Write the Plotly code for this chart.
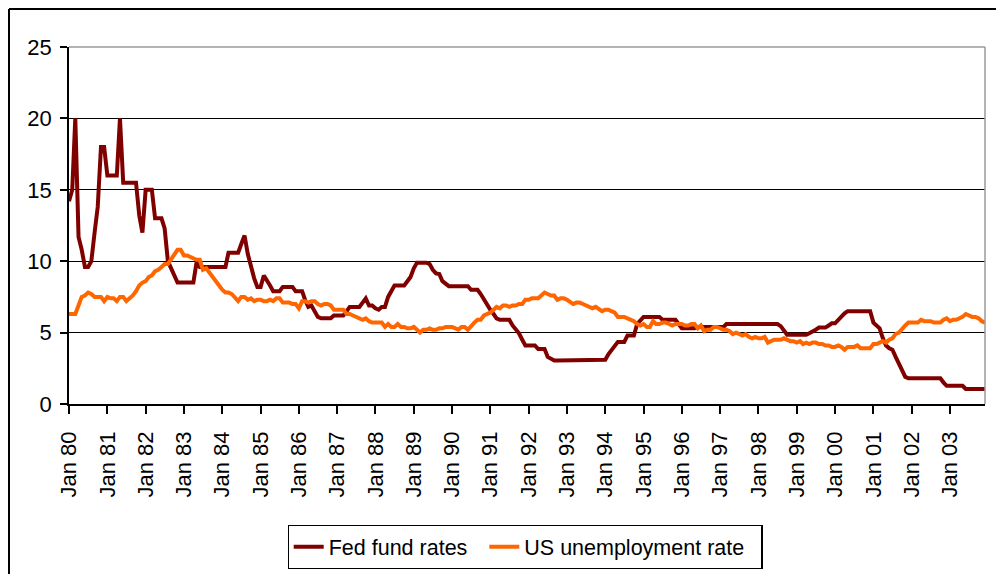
import pandas as pd
import plotly.graph_objects as go

# Monthly values, Jan 1980 .. Dec 2003
fed_funds = [
    14.2, 15.0, 20.0, 11.7, 10.8, 9.6, 9.6, 10.0, 12.0, 13.8, 18.0, 18.0,      # 1980
    16.0, 16.0, 16.0, 16.0, 20.0, 15.5, 15.5, 15.5, 15.5, 15.5, 13.2, 12.0,    # 1981
    15.0, 15.0, 15.0, 13.0, 13.0, 13.0, 12.3, 10.0, 9.5, 9.0, 8.5, 8.5,        # 1982
    8.5, 8.5, 8.5, 8.5, 9.9, 9.6, 9.6, 9.6, 9.6, 9.6, 9.6, 9.6,                # 1983
    9.6, 9.6, 10.6, 10.6, 10.6, 10.6, 11.2, 11.8, 10.5, 9.6, 8.8, 8.2,         # 1984
    8.2, 9.0, 8.6, 8.3, 7.9, 7.9, 7.9, 8.2, 8.2, 8.2, 8.2, 7.9,                # 1985
    7.9, 7.9, 7.3, 6.8, 6.9, 6.5, 6.1, 6.0, 6.0, 6.0, 6.0, 6.2,                # 1986
    6.2, 6.2, 6.2, 6.5, 6.8, 6.8, 6.8, 6.8, 7.1, 7.4, 6.9, 6.9,                # 1987
    6.7, 6.6, 6.8, 6.8, 7.5, 7.9, 8.3, 8.3, 8.3, 8.3, 8.6, 8.9,                # 1988
    9.5, 9.9, 9.9, 9.9, 9.9, 9.8, 9.4, 9.15, 9.1, 8.6, 8.4, 8.25,              # 1989
    8.25, 8.25, 8.25, 8.25, 8.25, 8.25, 8.0, 8.0, 8.0, 7.7, 7.3, 6.9,          # 1990
    6.6, 6.3, 6.0, 5.9, 5.9, 5.9, 5.9, 5.5, 5.2, 4.95, 4.5, 4.1,               # 1991
    4.1, 4.1, 4.1, 3.85, 3.85, 3.85, 3.3, 3.2, 3.05, 3.05, 3.05, 3.05,         # 1992
    3.05, 3.05, 3.05, 3.05, 3.05, 3.05, 3.05, 3.05, 3.05, 3.05, 3.05, 3.05,    # 1993
    3.1, 3.5, 3.8, 4.1, 4.35, 4.35, 4.35, 4.8, 4.8, 4.8, 5.6, 5.9,             # 1994
    6.1, 6.1, 6.1, 6.1, 6.1, 6.1, 5.9, 5.9, 5.9, 5.9, 5.9, 5.6,                # 1995
    5.3, 5.3, 5.3, 5.3, 5.3, 5.4, 5.4, 5.4, 5.4, 5.4, 5.4, 5.4,                # 1996
    5.4, 5.4, 5.6, 5.6, 5.6, 5.6, 5.6, 5.6, 5.6, 5.6, 5.6, 5.6,                # 1997
    5.6, 5.6, 5.6, 5.6, 5.6, 5.6, 5.6, 5.45, 5.15, 4.85, 4.85, 4.85,           # 1998
    4.85, 4.85, 4.85, 4.85, 4.95, 5.05, 5.2, 5.35, 5.35, 5.35, 5.5, 5.65,      # 1999
    5.65, 5.9, 6.1, 6.35, 6.5, 6.5, 6.5, 6.5, 6.5, 6.5, 6.5, 6.5,              # 2000
    5.7, 5.5, 5.3, 4.6, 4.1, 3.9, 3.8, 3.3, 2.8, 2.3, 1.9, 1.8,                # 2001
    1.8, 1.8, 1.8, 1.8, 1.8, 1.8, 1.8, 1.8, 1.8, 1.8, 1.5, 1.27,               # 2002
    1.27, 1.27, 1.27, 1.27, 1.27, 1.05, 1.05, 1.05, 1.05, 1.05, 1.05, 1.05,    # 2003
]

unemployment = [
    6.3, 6.3, 6.3, 6.9, 7.5, 7.6, 7.8, 7.7, 7.5, 7.5, 7.5, 7.2,      # 1980
    7.5, 7.4, 7.4, 7.2, 7.5, 7.5, 7.2, 7.4, 7.6, 7.9, 8.3, 8.5,      # 1981
    8.6, 8.9, 9.0, 9.3, 9.4, 9.6, 9.8, 9.8, 10.1, 10.4, 10.8, 10.8,  # 1982
    10.4, 10.4, 10.3, 10.2, 10.1, 10.1, 9.4, 9.5, 9.2, 8.8, 8.5, 8.3,  # 1983
    8.0, 7.8, 7.8, 7.7, 7.4, 7.2, 7.5, 7.5, 7.3, 7.4, 7.2, 7.3,      # 1984
    7.3, 7.2, 7.2, 7.3, 7.2, 7.4, 7.4, 7.1, 7.1, 7.1, 7.0, 7.0,      # 1985
    6.7, 7.2, 7.2, 7.1, 7.2, 7.2, 7.0, 6.9, 7.0, 7.0, 6.9, 6.6,      # 1986
    6.6, 6.6, 6.6, 6.3, 6.3, 6.2, 6.1, 6.0, 5.9, 6.0, 5.8, 5.7,      # 1987
    5.7, 5.7, 5.7, 5.4, 5.6, 5.4, 5.4, 5.6, 5.4, 5.4, 5.3, 5.3,      # 1988
    5.4, 5.2, 5.0, 5.2, 5.2, 5.3, 5.2, 5.2, 5.3, 5.3, 5.4, 5.4,      # 1989
    5.4, 5.3, 5.2, 5.4, 5.4, 5.2, 5.5, 5.7, 5.9, 5.9, 6.2, 6.3,      # 1990
    6.4, 6.6, 6.8, 6.7, 6.9, 6.9, 6.8, 6.9, 6.9, 7.0, 7.0, 7.3,      # 1991
    7.3, 7.4, 7.4, 7.4, 7.6, 7.8, 7.7, 7.6, 7.6, 7.3, 7.4, 7.4,      # 1992
    7.3, 7.1, 7.0, 7.1, 7.1, 7.0, 6.9, 6.8, 6.7, 6.8, 6.6, 6.5,      # 1993
    6.6, 6.6, 6.5, 6.4, 6.1, 6.1, 6.1, 6.0, 5.9, 5.8, 5.6, 5.5,      # 1994
    5.6, 5.4, 5.4, 5.8, 5.6, 5.6, 5.7, 5.7, 5.6, 5.5, 5.6, 5.6,      # 1995
    5.6, 5.5, 5.5, 5.6, 5.6, 5.3, 5.5, 5.1, 5.2, 5.2, 5.4, 5.4,      # 1996
    5.3, 5.2, 5.2, 5.1, 4.9, 5.0, 4.9, 4.8, 4.9, 4.7, 4.6, 4.7,      # 1997
    4.6, 4.6, 4.7, 4.3, 4.4, 4.5, 4.5, 4.5, 4.6, 4.5, 4.4, 4.4,      # 1998
    4.3, 4.4, 4.2, 4.3, 4.2, 4.3, 4.3, 4.2, 4.2, 4.1, 4.1, 4.0,      # 1999
    4.0, 4.1, 4.0, 3.8, 4.0, 4.0, 4.0, 4.1, 3.9, 3.9, 3.9, 3.9,      # 2000
    4.2, 4.2, 4.3, 4.4, 4.3, 4.5, 4.6, 4.9, 5.0, 5.3, 5.5, 5.7,      # 2001
    5.7, 5.7, 5.7, 5.9, 5.8, 5.8, 5.8, 5.7, 5.7, 5.7, 5.9, 6.0,      # 2002
    5.8, 5.9, 5.9, 6.0, 6.1, 6.3, 6.2, 6.1, 6.1, 6.0, 5.8, 5.7,      # 2003
]

months = pd.date_range("1980-01-01", periods=len(fed_funds), freq="MS")
tick_dates = pd.date_range("1980-01-01", "2003-01-01", freq="YS")
tick_labels = [d.strftime("Jan %y") for d in tick_dates]

FONT = "Liberation Sans, Arial, sans-serif"

# the page body has an 8px margin, so the figure sits 8px right/down in the window
OFF = 8
W, H = 1004, 574
# wanted plot area in window pixels: left 69, right 985, top 47, bottom 404
L, R, T, B = 69 - OFF, 985 - OFF, 47 - OFF, 404 - OFF


def px_x(px):
    """window pixel -> paper x"""
    return (px - OFF - L) / (R - L)


def px_y(py):
    """window pixel -> paper y"""
    return (B - (py - OFF)) / (B - T)


fig = go.Figure()
fig.add_trace(go.Scatter(x=months, y=fed_funds, mode="lines", name="Fed fund rates  ",
                         line=dict(color="#800000", width=4)))
fig.add_trace(go.Scatter(x=months, y=unemployment, mode="lines", name="US unemployment rate  ",
                         line=dict(color="#FF6600", width=4)))

shapes = [
    # outer chart border (only left and top are visible)
    dict(type="line", xref="paper", yref="paper", x0=px_x(9), x1=px_x(9),
         y0=px_y(9), y1=px_y(600), line=dict(color="black", width=2)),
    dict(type="line", xref="paper", yref="paper", x0=px_x(9), x1=px_x(1020),
         y0=px_y(9), y1=px_y(9), line=dict(color="black", width=2)),
    # gray plot-area border (top and right)
    dict(type="line", xref="paper", yref="paper", x0=0, x1=1, y0=1, y1=1,
         line=dict(color="#9a9a9a", width=1.5)),
    dict(type="line", xref="paper", yref="paper", x0=1, x1=1, y0=0, y1=1,
         line=dict(color="#9a9a9a", width=1.5)),
]

fig.update_layout(
    width=W, height=H, autosize=False,
    margin=dict(l=L, r=W - R, t=T, b=H - B, pad=0, autoexpand=False),
    paper_bgcolor="white", plot_bgcolor="white",
    font=dict(family=FONT, color="black", size=20),
    showlegend=True,
    legend=dict(orientation="h", xref="container", yref="container",
                x=(525 - OFF) / W, xanchor="center", y=1 - (525 - OFF) / H, yanchor="top",
                bordercolor="black", borderwidth=1.2, bgcolor="white",
                font=dict(size=21.5), itemwidth=30),
    shapes=shapes,
)

fig.update_xaxes(
    range=[months[0], months[-1]],
    tickvals=tick_dates, ticktext=tick_labels, tickangle=-90,
    ticks="outside", ticklen=8, tickwidth=1.5, tickcolor="black",
    showline=True, linecolor="black", linewidth=1.5,
    showgrid=False, zeroline=False, automargin=False,
    tickfont=dict(size=22), ticklabelstandoff=9,
)
fig.update_yaxes(
    range=[0, 25], dtick=5,
    ticks="outside", ticklen=7, tickwidth=1.5, tickcolor="black",
    showline=True, linecolor="black", linewidth=1.5,
    showgrid=True, gridcolor="black", gridwidth=1.2, zeroline=False, automargin=False,
    tickfont=dict(size=22), ticklabelstandoff=4,
)

fig.write_html("out.html")
